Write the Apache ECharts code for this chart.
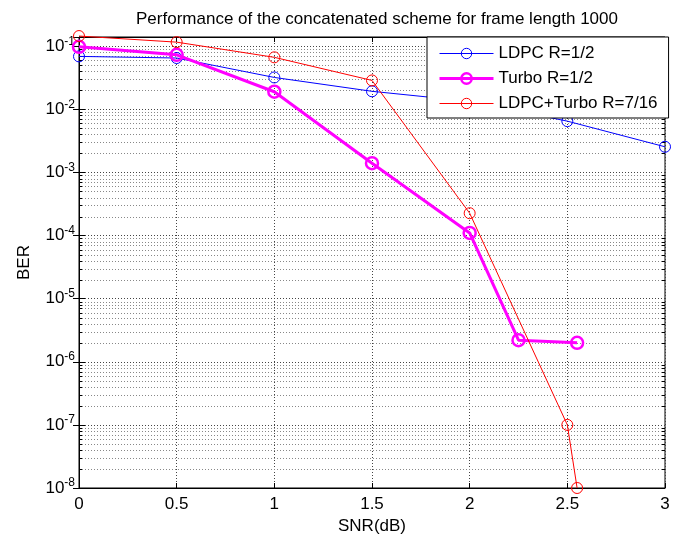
<!DOCTYPE html>
<html>
<head>
<meta charset="utf-8">
<script src="https://cdn.jsdelivr.net/npm/echarts@6/dist/echarts.min.js"></script>
<style>
  html, body { margin: 0; padding: 0; background: #fff; }
  #main { width: 681px; height: 540px; }
</style>
</head>
<body>
<div id="main"></div>
<script>
// axis ticks
var snrTicks = [0, 0.5, 1, 1.5, 2, 2.5, 3];
var berMin = 1e-8;
var berMax = 0.14;

// LDPC R=1/2
var ldpcSnr = [0, 0.5, 1, 1.5, 2, 2.5, 3];
var ldpcBer = [0.069, 0.065, 0.032, 0.0193, 0.0134, 0.0065, 0.00255];
// Turbo R=1/2
var turboSnr = [0, 0.5, 1, 1.5, 2, 2.25, 2.55];
var turboBer = [0.098, 0.073, 0.019, 0.0014, 1.1e-4, 2.2e-6, 2.0e-6];
// LDPC+Turbo R=7/16
var concatSnr = [0, 0.5, 1, 1.5, 2, 2.5, 2.55];
var concatBer = [0.145, 0.116, 0.0667, 0.0287, 2.26e-4, 1.0e-7, 1.0e-8];

var FONT = 'Liberation Sans';

function pairs(xs, ys) {
  return xs.map(function (x, i) { return [x, ys[i]]; });
}

// minor log grid (2..9 x 10^k), matlab style
var minorGrid = [];
for (var k = -8; k <= -1; k++) {
  for (var m = 2; m <= 9; m++) {
    var v = m * Math.pow(10, k);
    if (v < berMax) minorGrid.push([0, v]);
  }
}

function decadeLabel(value) {
  var e = Math.log10(value);
  var r = Math.round(e);
  if (Math.abs(e - r) > 1e-6) return '';
  return '{b|10}{s|' + r + '}';
}

function crisp(p) { return Math.round(p) + 0.5; }

var chart = echarts.init(document.getElementById('main'));

var option = {
  animation: false,
  backgroundColor: '#fff',
  textStyle: { fontFamily: FONT },
  title: {
    text: 'Performance of the concatenated scheme for frame length 1000',
    left: 372,
    textAlign: 'center',
    top: 6,
    textStyle: { fontFamily: FONT, fontSize: 17, fontWeight: 'normal', color: '#000' }
  },
  grid: {
    left: 79, right: 16, top: 37, bottom: 48,
    show: true, borderColor: '#000', borderWidth: 1
  },
  legend: {
    orient: 'vertical',
    left: 427,
    top: 37,
    padding: [8, 11, 6, 11],
    itemGap: 8,
    itemWidth: 54,
    itemHeight: 13,
    backgroundColor: '#fff',
    borderColor: '#000',
    borderWidth: 1,
    borderRadius: 0,
    lineStyle: { width: 'inherit' },
    itemStyle: { borderWidth: 'inherit' },
    textStyle: { fontFamily: FONT, fontSize: 17, color: '#000' },
    data: ['LDPC R=1/2', 'Turbo R=1/2', 'LDPC+Turbo R=7/16']
  },
  xAxis: [
    {
      type: 'value',
      min: 0, max: 3, interval: 0.5,
      name: 'SNR(dB)',
      nameLocation: 'middle',
      nameGap: 30,
      nameTextStyle: { fontFamily: FONT, fontSize: 17, color: '#000' },
      axisLine: { lineStyle: { color: '#000', width: 1 } },
      axisTick: { inside: true, length: 5, lineStyle: { color: '#000' } },
      axisLabel: {
        margin: 8, fontFamily: FONT, fontSize: 17, color: '#000',
        formatter: function (v) { return snrTicks.indexOf(v) >= 0 ? String(v) : ''; }
      },
      splitLine: { show: true, lineStyle: { color: '#444', type: [1, 2], width: 1 } }
    },
    {
      type: 'value',
      position: 'top',
      min: 0, max: 3, interval: 0.5,
      axisLine: { lineStyle: { color: '#000' } },
      axisTick: { inside: true, length: 5, lineStyle: { color: '#000' } },
      axisLabel: { show: false },
      splitLine: { show: false }
    }
  ],
  yAxis: [
    {
      type: 'log',
      logBase: 10,
      min: berMin, max: berMax,
      splitNumber: 8,
      name: 'BER',
      nameLocation: 'middle',
      nameGap: 46,
      nameTextStyle: { fontFamily: FONT, fontSize: 17, color: '#000' },
      axisLine: { lineStyle: { color: '#000', width: 1 } },
      axisTick: { inside: true, length: 6, lineStyle: { color: '#000' } },
      axisLabel: {
        margin: 4,
        showMaxLabel: false,
        formatter: decadeLabel,
        rich: {
          b: { fontFamily: FONT, fontSize: 17, color: '#000' },
          s: { fontFamily: FONT, fontSize: 12, color: '#000', padding: [0, 0, 10, 0] }
        }
      },
      splitLine: { show: true, lineStyle: { color: '#444', type: [1, 2], width: 1 } }
    },
    {
      type: 'log',
      logBase: 10,
      position: 'right',
      min: berMin, max: berMax,
      splitNumber: 8,
      axisLine: { lineStyle: { color: '#000' } },
      axisTick: { inside: true, length: 6, lineStyle: { color: '#000' } },
      axisLabel: { show: false },
      splitLine: { show: false }
    }
  ],
  series: [
    {
      // minor grid lines + minor ticks on left/right
      name: 'minorGrid',
      type: 'custom',
      silent: true,
      data: minorGrid,
      encode: { x: 0, y: 1 },
      renderItem: function (params, api) {
        var v = api.value(1);
        var p0 = api.coord([0, v]);
        var p1 = api.coord([3, v]);
        var y = crisp(p0[1]);
        var x0 = p0[0], x1 = p1[0];
        return {
          type: 'group',
          children: [
            { type: 'line', shape: { x1: x0, y1: y, x2: x1, y2: y },
              style: { stroke: '#888', lineWidth: 1, lineDash: [1, 2] } },
            { type: 'line', shape: { x1: x0, y1: y, x2: x0 + 3, y2: y },
              style: { stroke: '#000', lineWidth: 1 } },
            { type: 'line', shape: { x1: x1 - 3, y1: y, x2: x1, y2: y },
              style: { stroke: '#000', lineWidth: 1 } }
          ]
        };
      },
      z: 1
    },
    {
      name: 'LDPC R=1/2',
      type: 'line',
      data: pairs(ldpcSnr, ldpcBer),
      clip: false,
      symbol: 'circle',
      symbolSize: 11,
      lineStyle: { color: '#0000ff', width: 1 },
      itemStyle: { color: 'rgba(255,255,255,0)', borderColor: '#0000ff', borderWidth: 1 },
      z: 3
    },
    {
      name: 'Turbo R=1/2',
      type: 'line',
      data: pairs(turboSnr, turboBer),
      clip: false,
      symbol: 'circle',
      symbolSize: 12,
      lineStyle: { color: '#ff00ff', width: 3 },
      itemStyle: { color: 'rgba(255,255,255,0)', borderColor: '#ff00ff', borderWidth: 2.5 },
      z: 4
    },
    {
      name: 'LDPC+Turbo R=7/16',
      type: 'line',
      data: pairs(concatSnr, concatBer),
      clip: false,
      symbol: 'circle',
      symbolSize: 11,
      lineStyle: { color: '#ff0000', width: 1 },
      itemStyle: { color: 'rgba(255,255,255,0)', borderColor: '#ff0000', borderWidth: 1 },
      z: 5
    }
  ]
};

chart.setOption(option);
</script>
</body>
</html>
